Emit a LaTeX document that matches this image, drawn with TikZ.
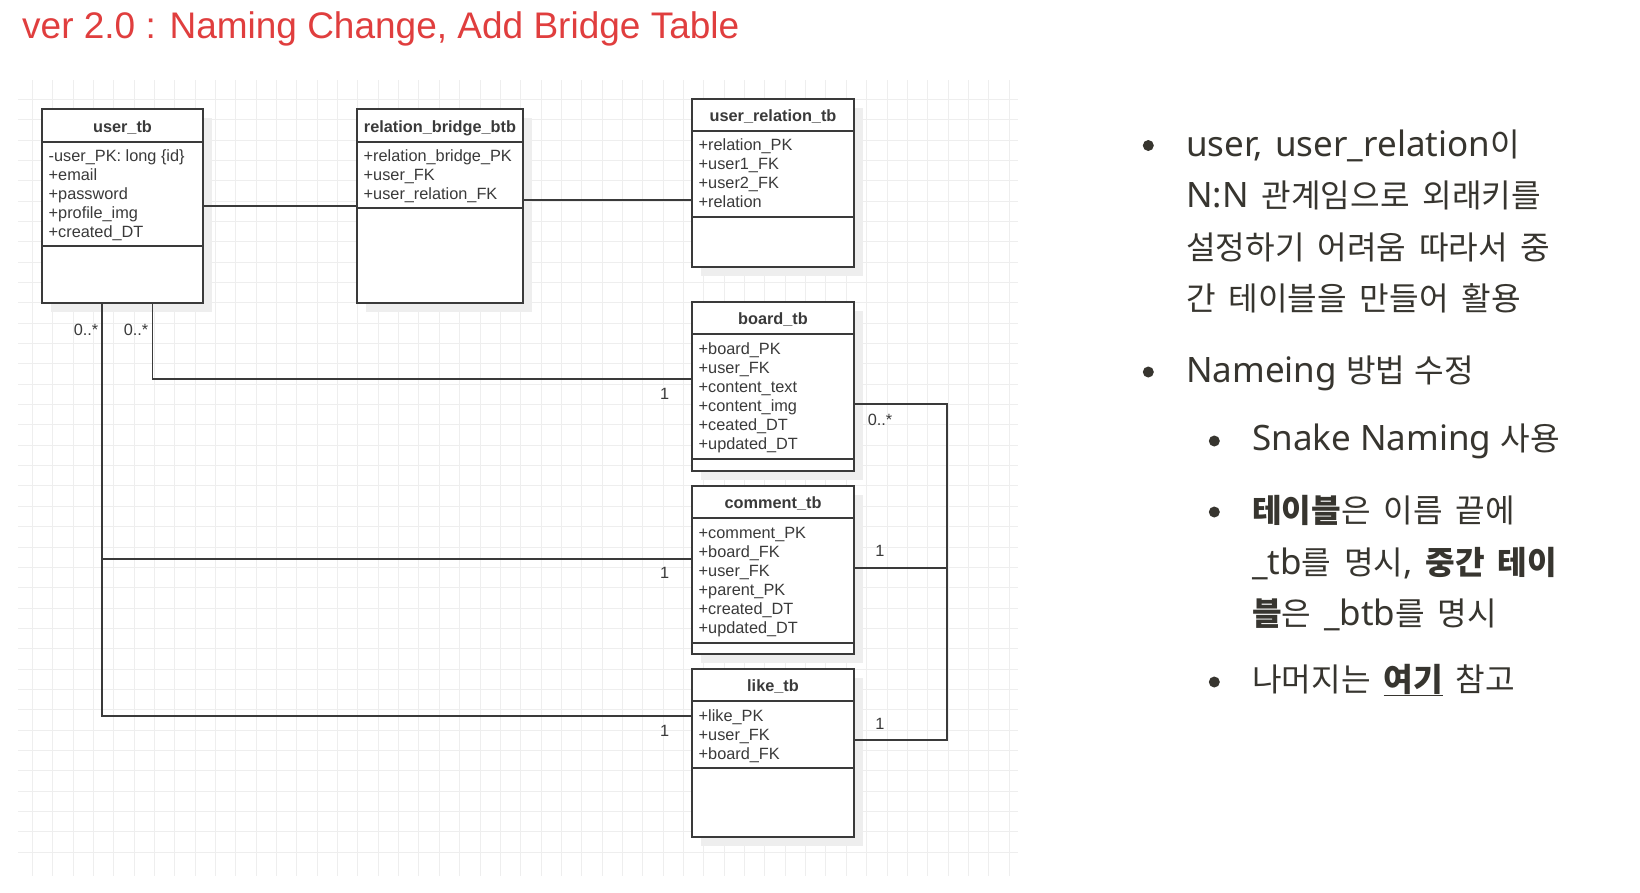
\documentclass[tikz,border=0pt]{standalone}
\usepackage{fontspec}
\setmainfont{Liberation Sans}
\newfontfamily\notof{Noto Sans}
\newfontfamily\krf[Scale=0.92]{Noto Sans CJK KR}
\definecolor{titlered}{HTML}{E03E3E}
\definecolor{ink}{HTML}{3A3A3A}
\definecolor{gridc}{HTML}{EEEEEE}
\definecolor{shadowc}{HTML}{EEEEEE}
\definecolor{txt}{HTML}{37352F}
\newcommand\K[1]{{\krf #1}}
\newcommand\rsp{\spaceskip=12.8pt\relax}
\newcommand\nsp{\spaceskip=0pt\relax}
\newcommand\flds[4]{\foreach \t [count=\i from 0] in {#4} \node[fld] (#1-\i) at (#2,{#3+19*\i}) {\t};}
\begin{document}
\begin{tikzpicture}[x=1pt,y=-1pt,
  gridline/.style={draw=gridc, line width=1pt},
  tbl/.style={draw=ink, line width=1.8pt, fill=white, rectangle, inner sep=0},
  tline/.style={draw=ink, line width=1.6pt},
  conn/.style={draw=ink, line width=1.6pt},
  fld/.style={anchor=base west, inner sep=0, font=\fontsize{16.3}{19}\selectfont, text=ink},
  hdr/.style={anchor=base, inner sep=0, font=\fontsize{16.3}{19}\selectfont\bfseries, text=ink},
  lbl/.style={anchor=base, inner sep=0, font=\fontsize{16.3}{19}\selectfont, text=ink},
  rtxt/.style={anchor=base west, inner sep=0, text=txt, font=\notof\fontsize{35}{40}\selectfont\rsp},
  bul/.style={circle, fill=txt, inner sep=0, minimum size=11pt}]
\useasboundingbox[fill=white] (0,0) rectangle (1640,892);
% grid
\begin{scope}
\clip (18,80) rectangle (1018,876);
\foreach \i in {0,...,48} \draw[gridline] ({32.3+20.35*\i},80) -- ({32.3+20.35*\i},876);
\foreach \j in {0,...,38} \draw[gridline] (18,{78.95+20.35*\j}) -- (1018,{78.95+20.35*\j});
\end{scope}
% title
\node[anchor=base west, inner sep=0, text=titlered, font=\fontsize{37}{40}\selectfont] (title) at (22,38) {ver 2.0 : Naming Change, Add Bridge Table};
% shadows
\fill[shadowc] (51,118) rectangle (212,312);
\fill[shadowc] (366,118) rectangle (532,312);
\fill[shadowc] (701,108) rectangle (863,276);
\fill[shadowc] (701,311) rectangle (863,480);
\fill[shadowc] (701,495) rectangle (863,663);
\fill[shadowc] (701,678) rectangle (863,846);
% tables
\node[tbl, minimum width=161pt, minimum height=194pt] (user) at (122.5,206) {};
\draw[tline] (42,142) -- (203,142);
\draw[tline] (42,246) -- (203,246);
\node[hdr] (user-h) at (122.5,132) {user\_tb};
\flds{user}{48.5}{161}{-user\_PK: long \{id\},+email,+password,+profile\_img,+created\_DT}

\node[tbl, minimum width=166pt, minimum height=194pt] (bridge) at (440,206) {};
\draw[tline] (357,142) -- (523,142);
\draw[tline] (357,208) -- (523,208);
\node[hdr] (bridge-h) at (440,132) {relation\_bridge\_btb};
\flds{bridge}{363.5}{161}{+relation\_bridge\_PK,+user\_FK,+user\_relation\_FK}

\node[tbl, minimum width=162pt, minimum height=168pt] (urel) at (773,183) {};
\draw[tline] (692,131) -- (854,131);
\draw[tline] (692,217) -- (854,217);
\node[hdr] (urel-h) at (773,121) {user\_relation\_tb};
\flds{urel}{698.5}{150}{+relation\_PK,+user1\_FK,+user2\_FK,+relation}

\node[tbl, minimum width=162pt, minimum height=169pt] (board) at (773,386.5) {};
\draw[tline] (692,334) -- (854,334);
\draw[tline] (692,459) -- (854,459);
\node[hdr] (board-h) at (773,324) {board\_tb};
\flds{board}{698.5}{354}{+board\_PK,+user\_FK,+content\_text,+content\_img,+ceated\_DT,+updated\_DT}

\node[tbl, minimum width=162pt, minimum height=168pt] (comment) at (773,570) {};
\draw[tline] (692,518) -- (854,518);
\draw[tline] (692,643) -- (854,643);
\node[hdr] (comment-h) at (773,508) {comment\_tb};
\flds{comment}{698.5}{538}{+comment\_PK,+board\_FK,+user\_FK,+parent\_PK,+created\_DT,+updated\_DT}

\node[tbl, minimum width=162pt, minimum height=168pt] (like) at (773,753) {};
\draw[tline] (692,701) -- (854,701);
\draw[tline] (692,768) -- (854,768);
\node[hdr] (like-h) at (773,691) {like\_tb};
\flds{like}{698.5}{721}{+like\_PK,+user\_FK,+board\_FK}
% connectors
\draw[conn] (user.east) -- (bridge.west);
\coordinate (br) at (0,200);
\draw[conn] (bridge.east |- br) -- (urel.west |- br);
\coordinate (ub) at (152.3,379);
\draw[conn] (user.south -| ub) |- (board.west |- ub);
\coordinate (ul) at (101.7,716);
\draw[conn] (user.south -| ul) |- (like.west |- ul);
\coordinate (uc) at (101.7,559);
\draw[conn] (uc) -- (comment.west |- uc);
\coordinate (bt) at (947,404);
\coordinate (lk) at (947,740);
\coordinate (cm) at (947,568);
\draw[conn] (board.east |- bt) -- (bt) -- (lk) -- (like.east |- lk);
\draw[conn] (cm) -- (comment.east |- cm);
% multiplicity labels
\node[lbl] (m1) at (86,335) {0..*};
\node[lbl] (m2) at (136,335) {0..*};
\node[lbl] (m3) at (664.7,399) {1};
\node[lbl] (m4) at (664.7,578) {1};
\node[lbl] (m5) at (664.7,736) {1};
\node[lbl] (m6) at (880,425) {0..*};
\node[lbl] (m7) at (880,556) {1};
\node[lbl] (m8) at (880,729) {1};
% right notes
\node[bul] (b1) at (1148.3,145.5) {};
\node[rtxt] (r1) at (1186,156) {user, user\_relation\K{이}};
\node[rtxt] (r2) at (1186,207.5) {N:N \K{관계임으로} \K{외래키를}};
\node[rtxt] (r3) at (1186,259) {\K{설정하기} \K{어려움} \K{따라서} \K{중}};
\node[rtxt] (r4) at (1186,310.5) {\K{간} \K{테이블을} \K{만들어} \K{활용}};
\node[bul] (b2) at (1148.3,372) {};
\node[rtxt] (r5) at (1186,382) {\nsp Nameing \K{방법} \K{수정}};
\node[bul] (b3) at (1214.3,441) {};
\node[rtxt] (r6) at (1252,450) {\nsp Snake Naming \K{사용}};
\node[bul] (b4) at (1214.3,512) {};
\node[rtxt] (r7) at (1252,522) {\K{\bfseries 테이블}\K{은} \K{이름} \K{끝에}};
\node[rtxt] (r8) at (1252,574) {{\bfseries \_tb}\K{를} \K{명시}, {\bfseries\K{중간} \K{테이}}};
\node[rtxt] (r9) at (1252,625.5) {\K{\bfseries 블}\K{은} {\bfseries \_btb}\K{를} \K{명시}};
\node[bul] (b5) at (1214.3,682) {};
\node[rtxt] (r10) at (1252,691) {\K{나머지는} \underline{\K{\bfseries 여기}} \K{참고}};
\end{tikzpicture}
\end{document}
